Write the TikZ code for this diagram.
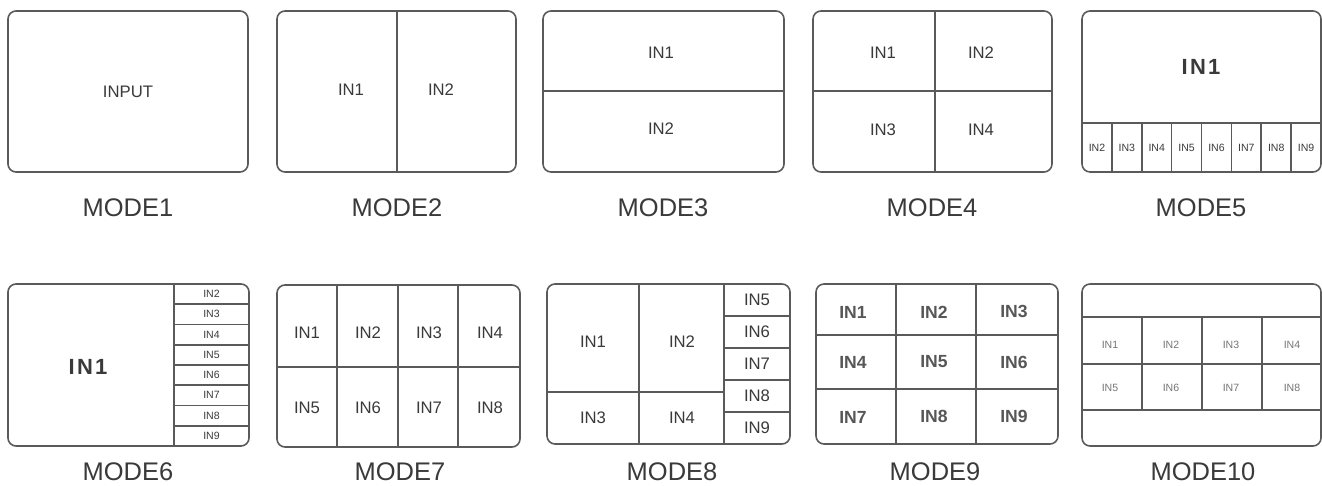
\documentclass[tikz,border=0pt]{standalone}
\usepackage{fontspec}
\setmainfont{Liberation Sans}
\usetikzlibrary{positioning}
\definecolor{frame}{HTML}{5A5A5A}
\definecolor{ink}{HTML}{3A3A3A}

\begin{document}
\begin{tikzpicture}[x=0.02cm, y=-0.02cm,
		screen/.style={draw=frame, line width=0.9pt, rounded corners=0.16cm},
		split/.style={draw=frame, line width=0.9pt},
		modelabel/.style={inner sep=0pt, text=ink, font=\fontsize{14.5}{16}\selectfont},
		inlabel/.style={inner sep=0pt, text=ink, font=\fontsize{9.5}{11}\selectfont},
		biglabel/.style={inner sep=0pt, text=ink, font=\fontsize{12.5}{14}\selectfont\bfseries\addfontfeature{LetterSpace=10}},
		tinylabel/.style={inner sep=0pt, text=ink, font=\fontsize{6}{7}\selectfont}]
	\useasboundingbox[fill=white] (0,0) rectangle (1322,486);

	% MODE1
	\draw[screen] (8,11) rectangle (248,172);
	\node[inlabel] (m1in) at (128,92) {INPUT};
	\node[modelabel] (m1) at (128,208) {MODE1};

	% MODE2
	\draw[split] (397,11) -- (397,172);
	\draw[screen] (277,11) rectangle (516,172);
	\node[inlabel] (m2in1) at (351,90) {IN1};
	\node[inlabel] (m2in2) at (441,90) {IN2};
	\node[modelabel] (m2) at (397,208) {MODE2};

	% MODE3
	\draw[split] (543,91) -- (784,91);
	\draw[screen] (543,11) rectangle (784,172);
	\node[inlabel] (m3in1) at (661,53) {IN1};
	\node[inlabel] (m3in2) at (661,129) {IN2};
	\node[modelabel] (m3) at (663,208) {MODE3};

	% MODE4
	\draw[split] (935,11) -- (935,172);
	\draw[split] (813,91) -- (1052,91);
	\draw[screen] (813,11) rectangle (1052,172);
	\node[inlabel] (m4in1) at (883,53) {IN1};
	\node[inlabel] (m4in2) at (981,53) {IN2};
	\node[inlabel] (m4in3) at (883,130) {IN3};
	\node[inlabel] (m4in4) at (981,130) {IN4};
	\node[modelabel] (m4) at (932,208) {MODE4};

	% MODE5
	\draw[split] (1082,123) -- (1321,123);
	\foreach \i in {1,...,7}
		\draw[split] (1082+\i*29.875,123) -- (1082+\i*29.875,172);
	\draw[screen] (1082,11) rectangle (1321,172);
	\node[biglabel] (m5in1) at (1201,67) {IN1};
	\foreach \i in {2,...,9}
		\node[tinylabel] (m5in\i) at (1082+\i*29.875-44.8,147.5) {IN\i};
	\node[modelabel] (m5) at (1201,208) {MODE5};

	% MODE6
	\draw[split] (174,284) -- (174,446);
	\foreach \i in {1,...,7}
		\draw[split] (174,284+\i*20.25) -- (249,284+\i*20.25);
	\draw[screen] (8,284) rectangle (249,446);
	\node[biglabel] (m6in1) at (88,367) {IN1};
	\foreach \i in {2,...,9}
		\node[tinylabel] (m6in\i) at (211.5,284+\i*20.25-30.4) {IN\i};
	\node[modelabel] (m6) at (128,472) {MODE6};

	% MODE7
	\foreach \x in {337,398,458}
		\draw[split] (\x,285) -- (\x,447);
	\draw[split] (277,367) -- (520,367);
	\draw[screen] (277,285) rectangle (520,447);
	\foreach \i/\x in {1/307,2/368,3/429,4/490}
		\node[inlabel] (m7in\i) at (\x,333) {IN\i};
	\foreach \i/\x in {5/307,6/368,7/429,8/490}
		\node[inlabel] (m7in\i) at (\x,408) {IN\i};
	\node[modelabel] (m7) at (400,472) {MODE7};

	% MODE8
	\draw[split] (639,284) -- (639,444);
	\draw[split] (724,284) -- (724,444);
	\draw[split] (547,392) -- (724,392);
	\foreach \i in {1,...,4}
		\draw[split] (724,284+\i*32) -- (790,284+\i*32);
	\draw[screen] (547,284) rectangle (790,444);
	\node[inlabel] (m8in1) at (593,342) {IN1};
	\node[inlabel] (m8in2) at (682,342) {IN2};
	\node[inlabel] (m8in3) at (593,418) {IN3};
	\node[inlabel] (m8in4) at (682,418) {IN4};
	\foreach \i in {5,...,9}
		\node[inlabel] (m8in\i) at (757,284+\i*32-144) {IN\i};
	\node[modelabel] (m8) at (672,472) {MODE8};

	% MODE9
	\draw[split] (896,284) -- (896,444);
	\draw[split] (976,284) -- (976,444);
	\draw[split] (816,335) -- (1058,335);
	\draw[split] (816,389) -- (1058,389);
	\draw[screen] (816,284) rectangle (1058,444);
	\foreach \i/\x/\y in {1/853/312,2/934/312,3/1014/311,4/853/362,5/934/362,6/1014/362,7/853/417,8/934/416,9/1014/416}
		\node[inlabel, text=ink!85, font=\fontsize{10}{12}\selectfont\bfseries] (m9in\i) at (\x,\y) {IN\i};
	\node[modelabel] (m9) at (935,472) {MODE9};

	% MODE10
	\foreach \y in {317,364,410}
		\draw[split] (1082,\y) -- (1321,\y);
	\foreach \x in {1142,1202,1262}
		\draw[split] (\x,317) -- (\x,410);
	\draw[screen] (1082,284) rectangle (1321,446);
	\foreach \i/\x in {1/1110,2/1171,3/1231,4/1292}
		\node[tinylabel, text=ink!70] (m10in\i) at (\x,345) {IN\i};
	\foreach \i/\x in {5/1110,6/1171,7/1231,8/1292}
		\node[tinylabel, text=ink!70] (m10in\i) at (\x,388) {IN\i};
	\node[modelabel] (m10) at (1203,472) {MODE10};
\end{tikzpicture}
\end{document}
